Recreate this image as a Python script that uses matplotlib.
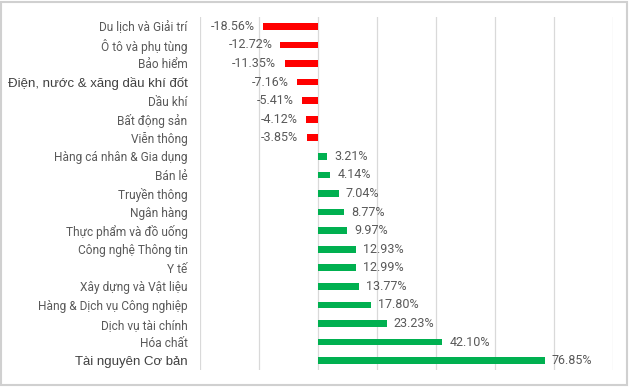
import matplotlib.pyplot as plt

# sector names (top to bottom) and their change in %
sectors = ["Du lịch và Giải trí", "Ô tô và phụ tùng", "Bảo hiểm",
           "Điện, nước & xăng dầu khí đốt", "Dầu khí", "Bất động sản",
           "Viễn thông", "Hàng cá nhân & Gia dụng", "Bán lẻ", "Truyền thông",
           "Ngân hàng", "Thực phẩm và đồ uống", "Công nghệ Thông tin", "Y tế",
           "Xây dựng và Vật liệu", "Hàng & Dịch vụ Công nghiệp",
           "Dịch vụ tài chính", "Hóa chất", "Tài nguyên Cơ bản"]
changes = [-18.56, -12.72, -11.35, -7.16, -5.41, -4.12, -3.85, 3.21, 4.14,
           7.04, 8.77, 9.97, 12.93, 12.99, 13.77, 17.80, 23.23, 42.10, 76.85]
big_labels = ["Điện, nước & xăng dầu khí đốt", "Tài nguyên Cơ bản"]
grid_x = [-40, -20, 0, 20, 40, 60, 80, 100]

RED = "#FF0000"
GREEN = "#00B050"
TXT = "#595959"

fig = plt.figure(figsize=(6.3, 3.87), dpi=100)
ax = fig.add_axes([200/630, 1 - 370/387, (613 - 200)/630, (370 - 17)/387])

ypos = list(range(len(sectors)))
cols = [RED if v < 0 else GREEN for v in changes]
ax.barh(ypos, changes, height=0.36, color=cols, zorder=3)

for y, v in zip(ypos, changes):
    if v < 0:
        ax.text(v - 2.8, y, "%.2f%%" % v, ha="right", va="center",
                fontsize=9, color=TXT, family="Roboto")
    else:
        ax.text(v + 2.4, y, "%.2f%%" % v, ha="left", va="center",
                fontsize=9, color=TXT, family="Roboto")

ax.set_xlim(-40, 100)
ax.set_ylim(len(sectors) - 0.5, -0.5)
for gx in grid_x:
    ax.axvline(gx, color="#d9d9d9", lw=0.9, zorder=1)

ax.set_xticks([])
ax.set_yticks(ypos)
ax.set_yticklabels(sectors)
ax.tick_params(axis="y", length=0, pad=9)
for lab in ax.get_yticklabels():
    if lab.get_text() in big_labels:
        lab.set_fontsize(9.5)
        lab.set_family("Liberation Sans")
        lab.set_color("#404040")
    else:
        lab.set_fontsize(8.6)
        lab.set_family("Roboto")
        lab.set_color(TXT)
for s in ax.spines.values():
    s.set_visible(False)

# light frame around the whole picture
fig.patches.append(plt.Rectangle((0.002, 0.006), 0.994, 0.99, transform=fig.transFigure,
                                 fill=False, ec="#d0d0d0", lw=1.5))

fig.savefig("out.png", dpi=100)
